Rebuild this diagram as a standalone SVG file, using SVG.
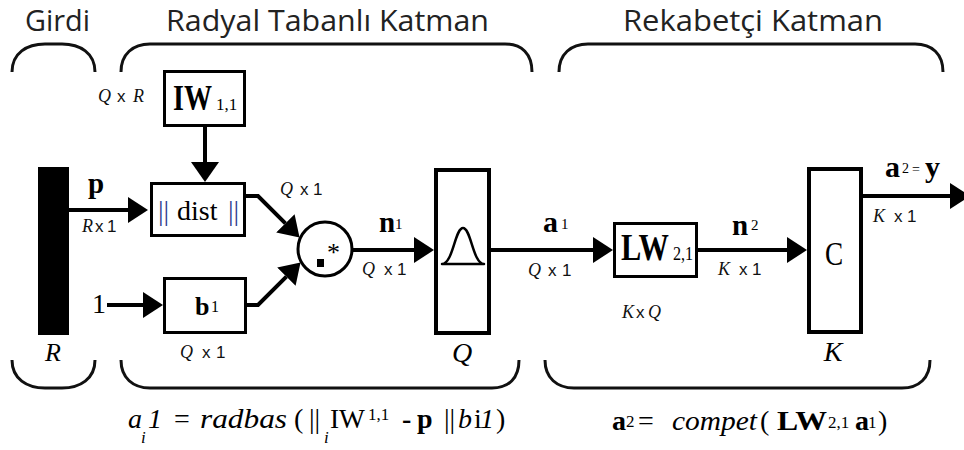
<svg xmlns="http://www.w3.org/2000/svg" width="964" height="450" viewBox="0 0 964 450">
<defs>
<style>
.hdr{font-family:"Open Sans","Liberation Sans",sans-serif;font-size:29px;fill:#222}
.brace{fill:none;stroke:#111;stroke-width:3}
.box{fill:#fff;stroke:#000;stroke-width:3}
.tall{fill:#fff;stroke:#000;stroke-width:4}
.con{fill:none;stroke:#000;stroke-width:4}
.s{font-family:"Liberation Serif","Times New Roman",serif;fill:#000}
.it{font-style:italic}
.b{font-weight:bold}
.dim{font-family:"Liberation Sans",Arial,sans-serif;font-size:17px;fill:#111}
.dimi{font-family:"Liberation Serif","Times New Roman",serif;font-style:italic;font-size:18px;fill:#111}
</style>
<marker id="ah" markerUnits="userSpaceOnUse" markerWidth="20" markerHeight="26" refX="0" refY="13" orient="auto" viewBox="0 0 20 26">
<path d="M0,0 L20,13 L0,26 z" fill="#000"/>
</marker>
<marker id="ahw" markerUnits="userSpaceOnUse" markerWidth="20" markerHeight="28" refX="0" refY="14" orient="auto" viewBox="0 0 20 28">
<path d="M0,0 L20,14 L0,28 z" fill="#000"/>
</marker>
</defs>
<rect width="964" height="450" fill="#fff"/>

<g id="headers">
<text class="hdr" x="25" y="31" textLength="65" lengthAdjust="spacingAndGlyphs">Girdi</text>
<text class="hdr" x="166" y="31" textLength="323" lengthAdjust="spacingAndGlyphs">Radyal Tabanlı Katman</text>
<text class="hdr" x="623" y="31" textLength="260" lengthAdjust="spacingAndGlyphs">Rekabetçi Katman</text>
</g>

<g id="braces">
<path class="brace" d="M12,72 C12,53 27,44 45,44 L62,44 C80,44 95,53 95,72"/>
<path class="brace" d="M121,72 C121,54 133,44 150,44 L505,44 C522,44 532,54 532,72"/>
<path class="brace" d="M559,72 C559,54 571,44 588,44 L915,44 C932,44 943,54 943,72"/>
<path class="brace" d="M12,360 C12,379 27,388 45,388 L62,388 C80,388 95,379 95,360"/>
<path class="brace" d="M121,360 C121,378 133,388 150,388 L492,388 C509,388 519,378 519,360"/>
<path class="brace" d="M545,360 C545,378 557,388 574,388 L902,388 C919,388 930,378 930,360"/>
</g>

<g id="connectors">
<path class="con" d="M69,210 L128,210" marker-end="url(#ah)"/>
<path class="con" d="M205,127 L205,162" marker-end="url(#ahw)"/>
<path class="con" d="M107,305 L143,305" marker-end="url(#ah)"/>
<path class="con" d="M246,196 L258,196 L285.4,223.4" marker-end="url(#ah)"/>
<path class="con" d="M247,305 L258,305 L286.4,276.6" marker-end="url(#ah)"/>
<path class="con" d="M353,250 L414,250" marker-end="url(#ah)"/>
<path class="con" d="M491,250 L593,250" marker-end="url(#ah)"/>
<path class="con" d="M698,250 L787,250" marker-end="url(#ah)"/>
<path class="con" d="M863,196 L950,196" marker-end="url(#ah)"/>
</g>

<g id="input-bar">
<rect x="38" y="167" width="31" height="168" fill="#000"/>
<text class="s it" x="53" y="361" font-size="26" text-anchor="middle">R</text>
</g>

<g id="input-labels">
<text class="s b" x="96" y="193" font-size="29" text-anchor="middle">p</text>
<text x="82" y="232"><tspan class="dimi">R</tspan><tspan class="dim" x="95">x</tspan><tspan class="dim" x="107">1</tspan></text>
<text class="s" x="92" y="313" font-size="28">1</text>
</g>

<g id="IW">
<rect class="box" x="164.5" y="71.5" width="80" height="54"/>
<text class="s b" transform="translate(173,110) scale(0.78,1)" font-size="36">IW</text>
<text class="s" x="216" y="110" font-size="17">1,1</text>
<text x="98" y="102"><tspan class="dimi" font-size="16">Q</tspan><tspan class="dim" x="117" font-size="16">x</tspan><tspan class="dimi" x="133" font-size="17">R</tspan></text>
</g>

<g id="dist">
<rect class="box" x="151.5" y="183.5" width="93" height="52"/>
<text class="s" x="158" y="220" font-size="28"><tspan fill="#2f3f8f">||</tspan><tspan x="177">dist</tspan><tspan x="228" fill="#2f3f8f">||</tspan></text>
</g>

<g id="b1">
<rect class="box" x="164.5" y="278.5" width="81" height="54"/>
<text class="s b" x="195" y="315" font-size="26">b</text>
<text class="s" x="211" y="312" font-size="16">1</text>
<text x="180" y="358"><tspan class="dimi">Q</tspan><tspan class="dim" x="202">x</tspan><tspan class="dim" x="216">1</tspan></text>
</g>

<g id="mult">
<circle cx="325" cy="249" r="27" fill="#fff" stroke="#000" stroke-width="3"/>
<rect x="317" y="259" width="7" height="8" fill="#000"/>
<text class="s" x="327" y="261" font-size="26">*</text>
<text x="280" y="195"><tspan class="dimi">Q</tspan><tspan class="dim" x="300">x</tspan><tspan class="dim" x="313">1</tspan></text>
</g>

<g id="n1-label">
<text class="s b" x="379" y="232" font-size="29">n</text>
<text class="s" x="395" y="229" font-size="15">1</text>
<text x="362" y="275"><tspan class="dimi">Q</tspan><tspan class="dim" x="384">x</tspan><tspan class="dim" x="397">1</tspan></text>
</g>

<g id="radbas">
<rect class="tall" x="436" y="170" width="53" height="163"/>
<path d="M442,264 C453,264 455,228 463,228 C471,228 473,264 484,264 Z" fill="none" stroke="#000" stroke-width="2.5" stroke-linejoin="round"/>
<text class="s it" x="462" y="362" font-size="28" text-anchor="middle">Q</text>
</g>

<g id="a1-label">
<text class="s b" x="543" y="232" font-size="30">a</text>
<text class="s" x="561" y="229" font-size="15">1</text>
<text x="528" y="276"><tspan class="dimi">Q</tspan><tspan class="dim" x="548">x</tspan><tspan class="dim" x="562">1</tspan></text>
</g>

<g id="LW">
<rect class="box" x="614.5" y="223.5" width="82" height="53"/>
<text class="s b" transform="translate(621,260) scale(0.8,1)" font-size="38">LW</text>
<text class="s" transform="translate(673,260) scale(0.85,1)" font-size="19">2,1</text>
<text x="622" y="318"><tspan class="dimi" font-size="16">K</tspan><tspan class="dim" x="636" font-size="16">x</tspan><tspan class="dimi" x="648" font-size="17">Q</tspan></text>
</g>

<g id="n2-label">
<text class="s b" x="732" y="235" font-size="29">n</text>
<text class="s" x="751" y="230" font-size="15">2</text>
<text x="718" y="275"><tspan class="dimi">K</tspan><tspan class="dim" x="739">x</tspan><tspan class="dim" x="752">1</tspan></text>
</g>

<g id="compet">
<rect class="tall" x="809" y="169" width="52" height="163"/>
<text class="s" transform="translate(834,265) scale(0.8,1)" font-size="34" text-anchor="middle">C</text>
<text class="s it" x="833" y="361" font-size="28" text-anchor="middle">K</text>
</g>

<g id="output-label">
<text class="s b" x="885" y="177" font-size="30">a</text>
<text class="s" x="902" y="173" font-size="14">2</text>
<text class="s" x="912" y="174" font-size="14">=</text>
<text class="s b" x="925" y="177" font-size="30">y</text>
<text x="873" y="222"><tspan class="dimi">K</tspan><tspan class="dim" x="894">x</tspan><tspan class="dim" x="907">1</tspan></text>
</g>

<g id="formula1">
<text class="s" y="428" font-size="28"><tspan class="it" x="128">a</tspan><tspan class="it" x="148">1</tspan><tspan x="174">=</tspan><tspan class="it" x="200" textLength="87" lengthAdjust="spacingAndGlyphs">radbas</tspan><tspan x="294">(</tspan><tspan x="309">||</tspan><tspan x="330" textLength="35" lengthAdjust="spacingAndGlyphs">IW</tspan><tspan class="b" x="402">-</tspan><tspan class="b" x="417">p</tspan><tspan x="444">||</tspan><tspan class="it" x="458">b</tspan><tspan x="474">i</tspan><tspan class="it" x="480">1</tspan><tspan x="496">)</tspan></text>
<text class="s it" x="141" y="443" font-size="17">i</text>
<text class="s it" x="324" y="443" font-size="17">i</text>
<text class="s" x="368" y="420" font-size="17">1,1</text>
</g>

<g id="formula2">
<text class="s" y="430" font-size="28"><tspan class="b" x="612">a</tspan><tspan x="638">=</tspan><tspan class="it" x="672" textLength="85" lengthAdjust="spacingAndGlyphs">compet</tspan><tspan x="760">(</tspan><tspan class="b" x="777" textLength="50" lengthAdjust="spacingAndGlyphs">LW</tspan><tspan class="b" x="855">a</tspan><tspan x="878">)</tspan></text>
<text class="s" x="626" y="427" font-size="17">2</text>
<text class="s" x="828" y="428" font-size="17">2,1</text>
<text class="s" x="868" y="428" font-size="17">1</text>
</g>
</svg>
